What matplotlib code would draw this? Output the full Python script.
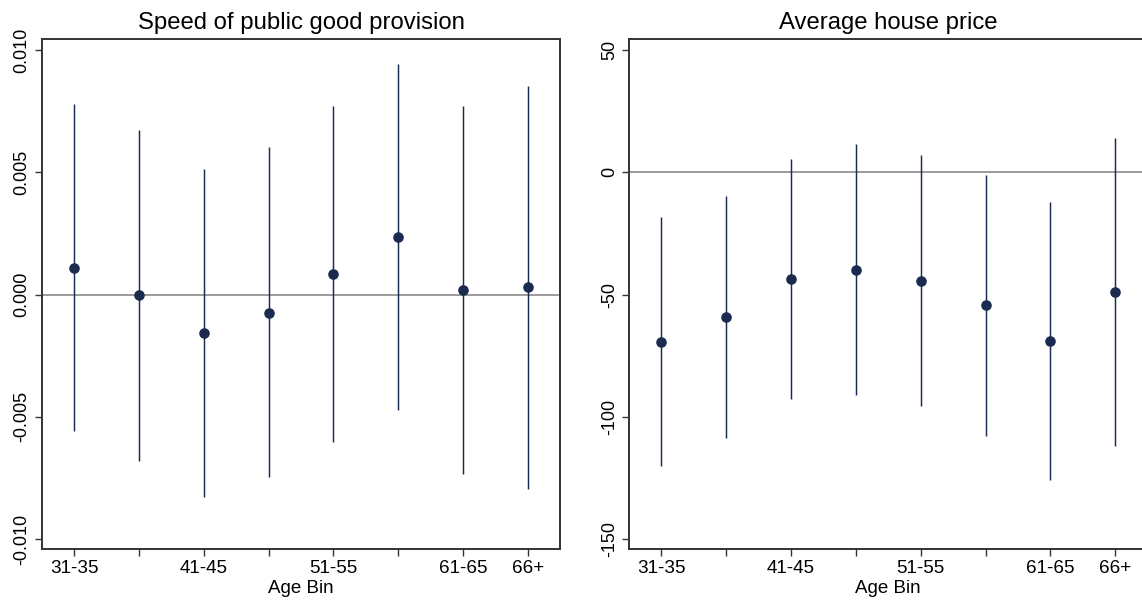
import matplotlib
matplotlib.use("Agg")
import matplotlib.pyplot as plt
import numpy as np

plt.rcParams['font.family'] = ['Liberation Sans', 'DejaVu Sans']

age_bins = ["31-35", "36-40", "41-45", "46-50", "51-55", "56-60", "61-65", "66+"]
shown = ["31-35", "", "41-45", "", "51-55", "", "61-65", "66+"]

# coefficient estimates with 95% CI bounds
speed_coef = [0.0011, 0.0000, -0.00157, -0.00074, 0.00084, 0.00234, 0.0002, 0.00029]
speed_lo = [-0.00558, -0.00679, -0.00829, -0.00746, -0.00603, -0.00472, -0.00733, -0.00797]
speed_hi = [0.00778, 0.00672, 0.00512, 0.00602, 0.00773, 0.00943, 0.00773, 0.00854]

price_coef = [-69.3, -59.2, -43.5, -39.8, -44.3, -54.3, -69.1, -49.1]
price_lo = [-120.1, -108.8, -92.6, -90.9, -95.5, -107.7, -125.9, -112.0]
price_hi = [-18.3, -9.7, 5.6, 11.4, 7.2, -1.0, -12.1, 14.1]

navy = "#1b2a50"
x = np.arange(1, len(age_bins) + 1)

fig = plt.figure(figsize=(11.42, 6.02), dpi=100)
ax1 = fig.add_axes([0.0365, 0.0875, 0.4541, 0.8477])
ax2 = fig.add_axes([0.5508, 0.0875, 0.4541, 0.8477])


def panel(ax, coef, lo, hi, title, ylim, yticks, fmt):
    ax.axhline(0, color="#808080", lw=1.1, zorder=1)
    ax.vlines(x, lo, hi, color=navy, lw=1.05, zorder=2)
    ax.plot(x, coef, "o", color=navy, ms=6.6, zorder=3)
    ax.set_xlim(0.5, 8.5)
    ax.set_ylim(*ylim)
    ax.set_xticks(x)
    ax.set_xticklabels(shown, fontsize=13.6)
    ax.set_yticks(yticks)
    ax.set_yticklabels([fmt(v) for v in yticks], fontsize=13,
                       rotation=90, va="center")
    ax.set_xlabel("Age Bin", fontsize=13.5, labelpad=2)
    ax.set_title(title, fontsize=17.2, pad=7)
    ax.tick_params(direction="out", length=5, width=1, color="#333333", pad=3)
    for s in ax.spines.values():
        s.set_color("#333333")
        s.set_linewidth(1.4)


panel(ax1, speed_coef, speed_lo, speed_hi, "Speed of public good provision",
      (-0.01042, 0.01045), [-0.010, -0.005, 0.0, 0.005, 0.010],
      lambda v: f"{v:.3f}")
panel(ax2, price_coef, price_lo, price_hi, "Average house price",
      (-154.2, 54.5), [-150, -100, -50, 0, 50],
      lambda v: f"{v:.0f}")

fig.savefig("out.png", dpi=100, facecolor="white")
